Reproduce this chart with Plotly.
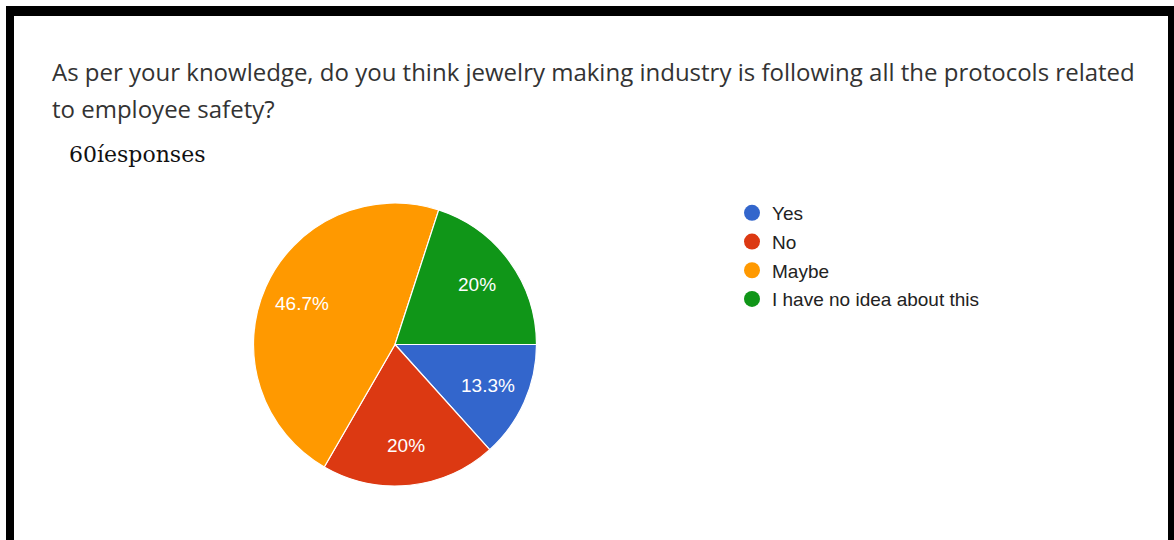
import math
import plotly.graph_objects as go

# Survey answers
answers = ["Yes", "No", "Maybe", "I have no idea about this"]
counts = [8, 12, 28, 12]
colors = ["#3366cc", "#dc3912", "#ff9900", "#109618"]

question_lines = [
    "As per your knowledge, do you think jewelry making industry is following all the protocols related",
    "to employee safety?",
]
responses_label = "60íesponses"

W, H = 1174, 540
total = sum(counts)
pct_text = [f"{round(c / total * 100, 1):g}%" for c in counts]


def px_x(x):
    return x / W


def px_y(y):
    return 1 - y / H


# Pie placement (pixels)
cx, cy, r = 395, 344.5, 141.5
start_deg = 0.0          # slices start at 3 o'clock and run clockwise
label_r = 0.72 * r

fig = go.Figure()

fig.add_trace(go.Pie(
    labels=answers,
    values=counts,
    textinfo="none",
    marker=dict(colors=colors, line=dict(color="white", width=1.2)),
    sort=False,
    direction="clockwise",
    rotation=90,
    showlegend=False,
    hoverinfo="label+percent",
    domain=dict(x=[px_x(cx - r), px_x(cx + r)], y=[px_y(cy + r), px_y(cy - r)]),
))

# Percentage labels at each slice's bisector
annotations = []
acc = 0.0
for c, t in zip(counts, pct_text):
    mid = start_deg + (acc + c / 2) / total * 360
    acc += c
    lx = cx + label_r * math.cos(math.radians(mid))
    ly = cy + label_r * math.sin(math.radians(mid))
    annotations.append(dict(
        text=t, x=px_x(lx), y=px_y(ly), xanchor="center", yanchor="middle",
        font=dict(family="Liberation Sans, Arial", size=19, color="white"),
    ))

# Legend entries with round markers
for i, (name, col) in enumerate(zip(answers, colors)):
    fig.add_trace(go.Scatter(
        x=[None], y=[None], mode="markers", name=name,
        marker=dict(color=col, size=19, symbol="circle"),
        legendgroup=f"g{i}", showlegend=True,
    ))

annotations += [
    dict(text=question_lines[0], x=px_x(50), y=px_y(71), xanchor="left", yanchor="middle",
         font=dict(family="Open Sans", size=24, color="#333333")),
    dict(text=question_lines[1], x=px_x(50), y=px_y(109), xanchor="left", yanchor="middle",
         font=dict(family="Open Sans", size=24, color="#333333")),
    dict(text=responses_label, x=px_x(67), y=px_y(154), xanchor="left", yanchor="middle",
         font=dict(family="DejaVu Serif", size=22, color="#111111")),
]
for a in annotations:
    a.update(xref="paper", yref="paper", showarrow=False)

# Page frame
frame = [
    dict(x0=px_x(6), x1=px_x(14), y0=0, y1=px_y(6)),
    dict(x0=px_x(6), x1=1, y0=px_y(16), y1=px_y(6)),
    dict(x0=px_x(1168), x1=1, y0=0, y1=px_y(6)),
]
shapes = [dict(type="rect", xref="paper", yref="paper", fillcolor="black",
               line=dict(width=0), layer="above", **f) for f in frame]

fig.update_layout(
    width=W, height=H,
    margin=dict(l=0, r=0, t=0, b=0),
    paper_bgcolor="white",
    plot_bgcolor="white",
    xaxis=dict(visible=False),
    yaxis=dict(visible=False),
    annotations=annotations,
    shapes=shapes,
    legend=dict(
        x=px_x(732), y=px_y(194), xanchor="left", yanchor="top",
        font=dict(family="Liberation Sans, Arial", size=19, color="#222222"),
        tracegroupgap=1, bgcolor="rgba(0,0,0,0)",
    ),
)

fig.write_html("out.html")
